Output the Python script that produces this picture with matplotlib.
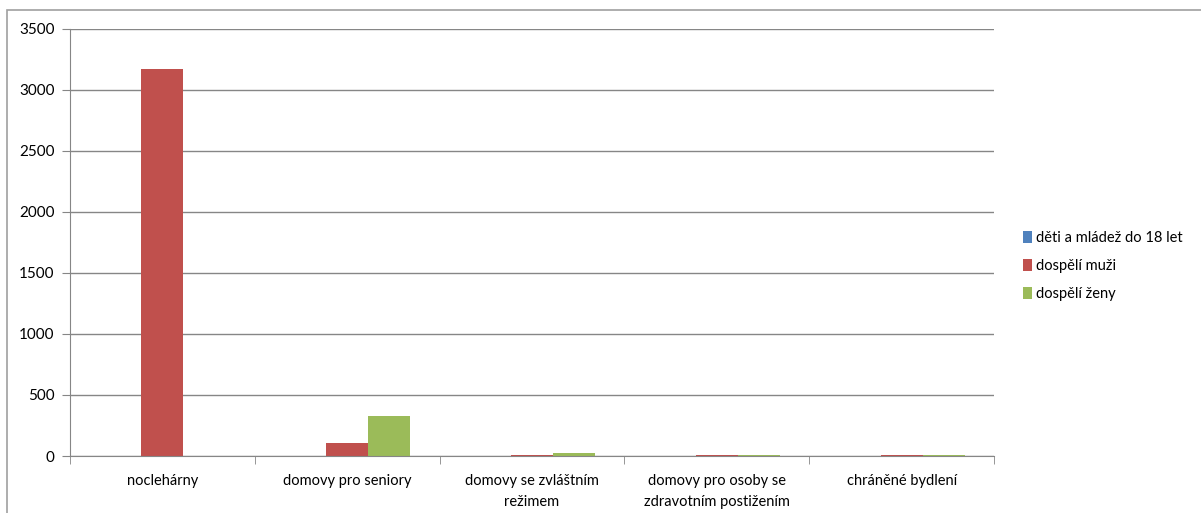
import matplotlib
matplotlib.use("Agg")
import matplotlib.pyplot as plt
import numpy as np
from matplotlib.patches import Rectangle

categories = ["noclehárny", "domovy pro seniory", "domovy se zvláštním\nrežimem",
              "domovy pro osoby se\nzdravotním postižením", "chráněné bydlení"]
series_names = ["děti a mládež do 18 let", "dospělí muži", "dospělí ženy"]
deti = [0, 0, 0, 0, 0]
muzi = [3170, 105, 10, 12, 12]
zeny = [0, 330, 22, 10, 10]
colors = ["#4F81BD", "#C0504D", "#9BBB59"]
yticks = [0, 500, 1000, 1500, 2000, 2500, 3000, 3500]

plt.rcParams['font.family'] = ['Lato', 'DejaVu Sans']

fig = plt.figure(figsize=(12.01, 5.13), dpi=100)
# outer chart frame
fig.patches.append(Rectangle((7/1201, -0.05), 1.1, 0.05 + 1 - 10/513,
                             transform=fig.transFigure, fill=False,
                             edgecolor="#A0A0A0", linewidth=1.2))

ax = fig.add_axes([70/1201, 1 - 456/513, 924/1201, 427/513])
x = np.arange(len(categories))
w = 0.227
for i, (vals, c, name) in enumerate(zip([deti, muzi, zeny], colors, series_names)):
    ax.bar(x + (i - 1) * w, vals, width=w, color=c, label=name)

ax.set_xlim(-0.5, len(categories) - 0.5)
ax.set_ylim(0, 3500)
ax.set_yticks(yticks)
ax.set_yticklabels([str(v) for v in yticks], fontsize=11)
ax.yaxis.grid(True, color="#868686", linewidth=1)
ax.set_axisbelow(True)
ax.set_xticks(x)
ax.set_xticklabels(categories, fontsize=10.5, linespacing=1.6)
ax.set_xticks(np.arange(len(categories) + 1) - 0.5, minor=True)
ax.tick_params(axis="x", which="major", length=0, pad=13)
ax.tick_params(axis="x", which="minor", length=6, color="#868686")
ax.tick_params(axis="y", length=6, color="#868686", pad=5)
for s in ["top", "right"]:
    ax.spines[s].set_visible(False)
for s in ["left", "bottom"]:
    ax.spines[s].set_color("#868686")

ax.legend(loc="center left", bbox_to_anchor=(1010/1201, 1 - 266/513),
          bbox_transform=fig.transFigure, frameon=False, fontsize=10.5,
          handlelength=0.6, handleheight=0.9, handletextpad=0.3, labelspacing=0.95)

fig.savefig("out.png", dpi=100)
